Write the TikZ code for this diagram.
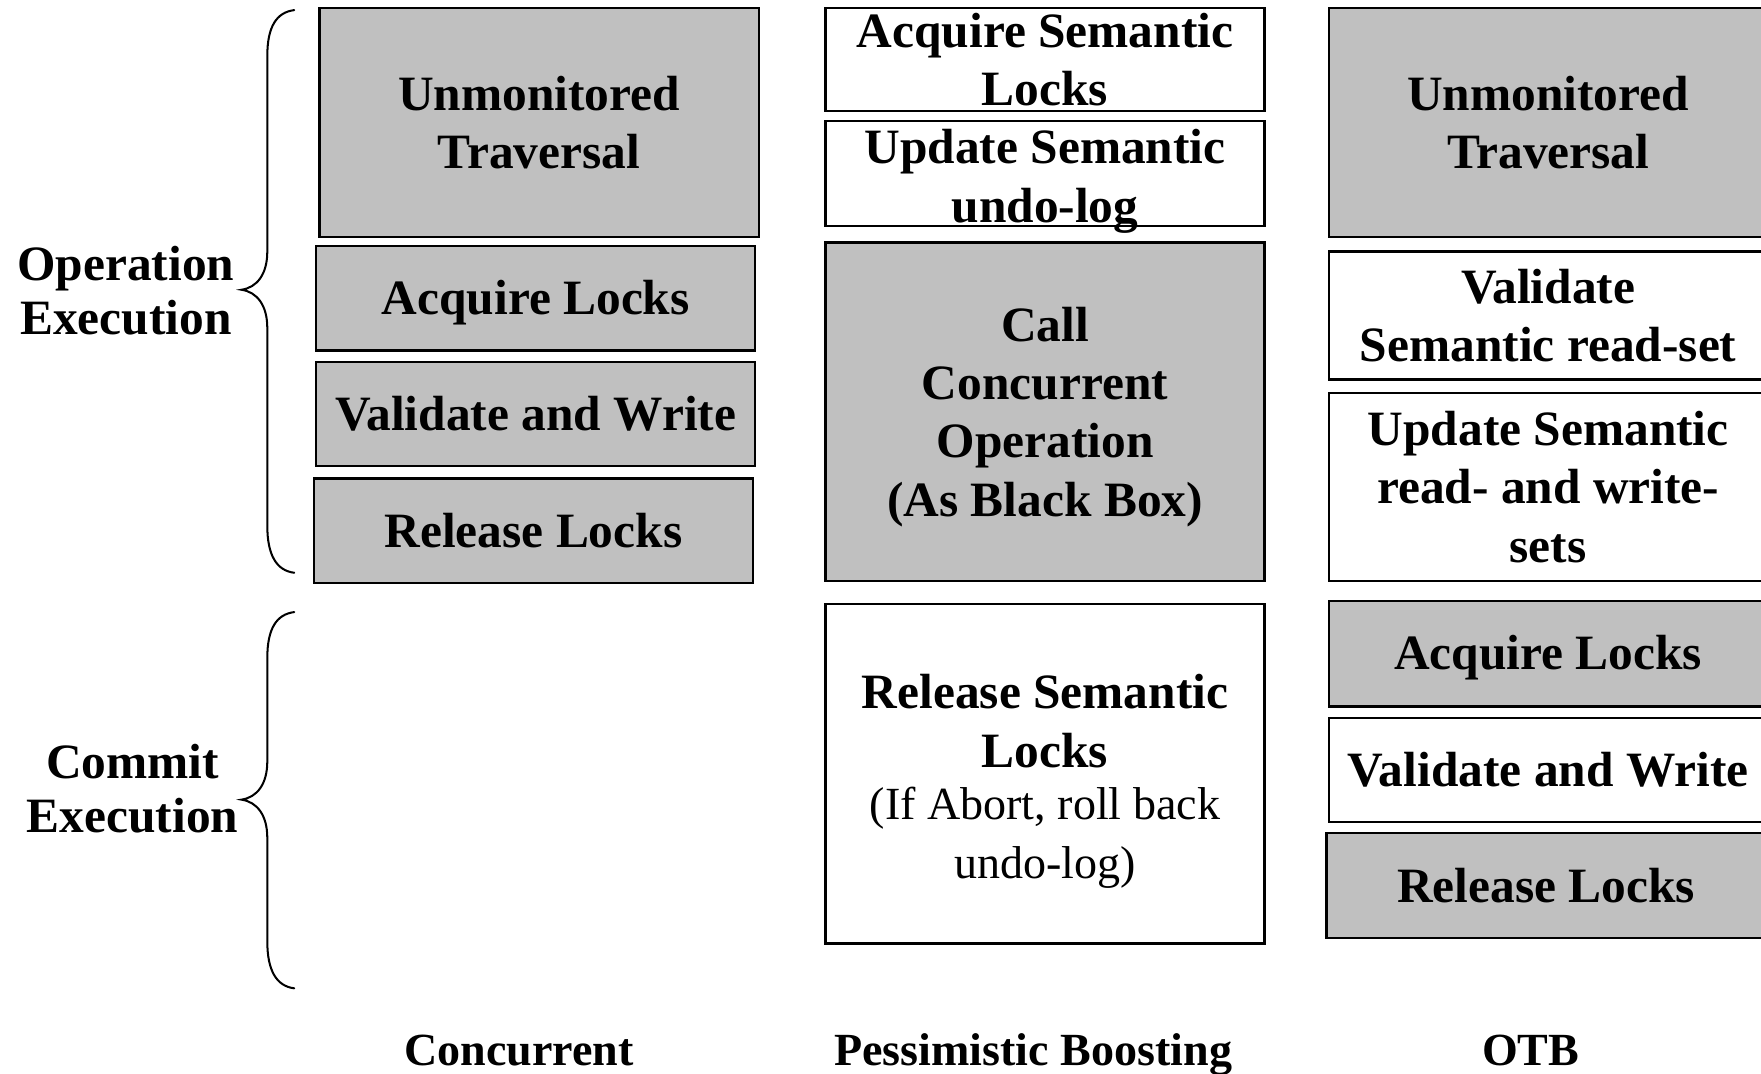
\documentclass[tikz,border=0pt]{standalone}
\usepackage{fontspec}
\setmainfont{Liberation Serif}
\definecolor{boxgray}{RGB}{192,192,192}
\newcommand{\topstrut}[1]{\rule{0pt}{#1}}
\begin{document}
\begin{tikzpicture}[x=0.5pt,y=-0.5pt,
  base/.style={draw=black, line width=1pt, inner sep=0pt, align=flush center, text width=192pt, minimum width=195.5pt, font=\fontsize{22}{26}\selectfont\bfseries},
  gbox/.style={base, fill=boxgray},
  wbox/.style={base, fill=white},
  lbl/.style={align=center, inner sep=0pt, font=\fontsize{22}{24}\selectfont\bfseries},
  colname/.style={anchor=base, inner sep=0pt, font=\fontsize{20.5}{24}\selectfont\bfseries},
  bracepath/.style={line width=0.9pt, line cap=round}]
\useasboundingbox (0,0) rectangle (1568,956);
\clip (0,0) rectangle (1568,956);

% Column 1: Concurrent
\node[gbox, minimum height=102pt] (c1a) at (480,109) {Unmonitored\\Traversal};
\node[gbox, minimum height=46.5pt] (c1b) at (477,265.5) {\topstrut{18.9pt}Acquire Locks};
\node[gbox, minimum height=46.5pt] (c1c) at (477,368.5) {Validate and Write};
\node[gbox, minimum height=46.5pt] (c1d) at (475,472.5) {Release Locks};

% Column 2: Pessimistic Boosting
\node[wbox, minimum height=46pt] (c2a) at (930.5,53) {Acquire Semantic\\Locks};
\node[wbox, minimum height=46.5pt, text depth=23.8pt] (c2b) at (930.5,154.5) {Update Semantic\\undo-log};
\node[gbox, minimum height=150.5pt] (c2c) at (930.5,366.5) {\topstrut{19.9pt}Call\\Concurrent\\Operation\\(As Black Box)};
\node[wbox, minimum height=151pt] (c2d) at (930.5,689) {\topstrut{21.9pt}Release Semantic\\Locks\par\vspace{-1.5pt}\fontsize{20.5}{25}\selectfont\mdseries (If Abort, roll back\\undo-log)};

% Column 3: OTB
\node[gbox, minimum height=102pt] (c3a) at (1378.5,109) {Unmonitored\\Traversal};
\node[wbox, minimum height=57pt] (c3b) at (1378.5,281) {Validate\\Semantic read-set};
\node[wbox, minimum height=83.5pt] (c3c) at (1378.5,433.5) {Update Semantic\\read- and write-\\sets};
\node[gbox, minimum height=47pt] (c3d) at (1378.5,582) {\topstrut{18.9pt}Acquire Locks};
\node[wbox, minimum height=46.5pt] (c3e) at (1378.5,685.5) {Validate and Write};
\node[gbox, minimum height=46.5pt] (c3f) at (1376.5,788.5) {Release Locks};

% Braces
\coordinate (b1t) at (262,9);
\coordinate (b1m) at (215,258);
\coordinate (b1b) at (262,510);
\draw[bracepath] (b1t) .. controls (246,11) and (238,24) .. (238,50) -- (238,224)
  .. controls (238,244) and (229,256) .. (b1m)
  .. controls (229,260) and (238,272) .. (238,292) -- (238,468)
  .. controls (238,494) and (246,508) .. (b1b);
\coordinate (b2t) at (262,545);
\coordinate (b2m) at (215,712);
\coordinate (b2b) at (262,880);
\draw[bracepath] (b2t) .. controls (246,547) and (238,560) .. (238,586) -- (238,678)
  .. controls (238,698) and (229,710) .. (b2m)
  .. controls (229,714) and (238,726) .. (238,746) -- (238,838)
  .. controls (238,864) and (246,878) .. (b2b);

% Brace labels
\node[lbl] (opexec) at (112,259) {Operation\\Execution};
\node[lbl] (cmexec) at (118,702) {Commit\\Execution};

% Column names
\node[colname] (n1) at (462,949) {Concurrent};
\node[colname] (n2) at (920,949) {Pessimistic Boosting};
\node[colname] (n3) at (1363,949) {OTB};
\end{tikzpicture}
\end{document}
